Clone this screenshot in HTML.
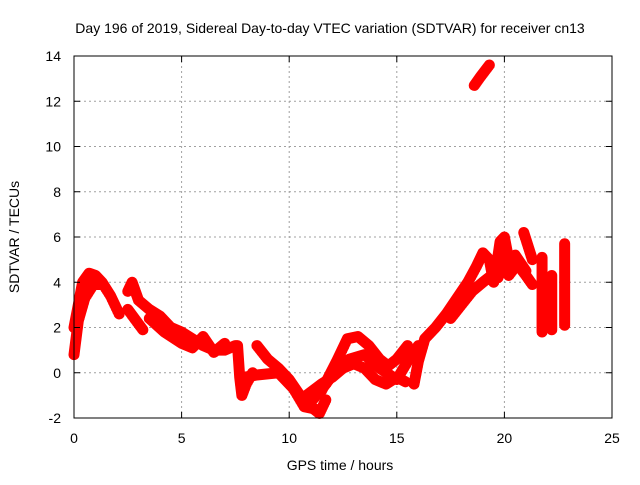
<!DOCTYPE html>
<html><head><meta charset="utf-8"><style>
body{margin:0;background:#fff;}
svg text{font-family:"Liberation Sans",sans-serif;font-size:14px;fill:#000;}
</style></head><body>
<svg id="chart" width="640" height="480" viewBox="0 0 640 480" xmlns="http://www.w3.org/2000/svg">
<rect width="640" height="480" fill="#fff"/>
<text x="330" y="33" text-anchor="middle">Day 196 of 2019, Sidereal Day-to-day VTEC variation (SDTVAR) for receiver cn13</text>
<g id="grid"></g>
<g id="marks"></g>
<rect x="74" y="56" width="538" height="362" fill="none" stroke="#000" stroke-width="1"/>
<g id="axes"></g>
<text x="340" y="470" text-anchor="middle">GPS time / hours</text>
<text transform="translate(19,237) rotate(-90)" text-anchor="middle">SDTVAR / TECUs</text>
</svg>
<script>
const xTicks=[0,5,10,15,20,25];
const yTicks=[-2,0,2,4,6,8,10,12,14];
const trace1=[[0,2.0],[0.2,3.0],[0.4,4.0],[0.7,4.4],[1.0,4.3],[1.3,4.0],[1.7,3.4],[2.1,2.6]];
const trace2=[[0,0.8],[0.2,2.3],[0.5,3.3],[0.9,3.9],[1.3,3.9]];
const trace3=[[2.5,3.6],[2.7,4.0],[3.0,3.2],[3.5,2.8],[4.0,2.5],[4.5,2.0],[5.0,1.8],[5.5,1.5],[6.0,1.2],[6.5,1.0],[7.0,1.0],[7.5,1.2]];
const trace4=[[2.5,2.8],[3.2,1.9]];
const trace5=[[3.5,2.4],[4.2,1.8],[5.0,1.3],[5.5,1.1],[6.0,1.6],[6.5,0.9],[7.0,1.3]];
const trace6=[[7.6,1.2],[7.7,-0.2],[7.8,-1.0],[8.0,-0.5],[8.3,0.0]];
const trace7=[[8.5,1.2],[9.0,0.6],[9.5,0.2],[10.0,-0.3],[10.5,-1.0],[11.0,-1.5],[11.4,-1.8],[11.7,-1.2]];
const trace8=[[7.9,-0.2],[8.5,-0.1],[9.5,0.0],[10.2,-0.7],[10.7,-1.5],[11.2,-1.6]];
const trace9=[[10.8,-1.0],[11.5,-0.5],[12.0,-0.2],[12.5,0.2],[13.0,0.4],[13.5,0.2],[14.0,-0.3],[14.5,-0.5],[15.0,-0.2],[15.4,-0.4]];
const trace10=[[11.0,-1.3],[11.7,-0.5],[12.3,0.3],[12.8,0.6],[13.5,0.8],[14.2,0.2],[15.0,-0.3],[15.5,0.5],[16.0,1.2]];
const trace11=[[11.5,-0.8],[12.2,0.5],[12.7,1.5],[13.2,1.6],[13.7,1.2],[14.2,0.6],[14.6,0.3],[15.0,0.6],[15.5,1.2]];
const trace12=[[15.8,-0.5],[16.0,0.5],[16.3,1.5],[16.8,2.0],[17.3,2.6],[17.8,3.3],[18.3,4.0],[18.7,4.7],[19.0,5.3],[19.3,5.0],[19.5,4.0]];
const trace13=[[17.5,2.4],[18.0,3.0],[18.5,3.6],[19.0,4.0],[19.4,4.3],[19.7,4.2],[20.0,5.0],[20.2,4.3],[20.6,4.8],[21.0,4.3],[21.3,3.9]];
const trace14=[[19.6,4.5],[19.8,5.8],[20.0,6.0],[20.2,5.0],[20.5,5.2],[21.0,4.5]];
const trace15=[[20.9,6.2],[21.3,5.0]];
const trace16=[[21.75,5.1],[21.75,3.5],[21.75,1.8]];
const trace17=[[22.2,4.3],[22.2,3.0],[22.2,1.9]];
const trace18=[[22.8,5.7],[22.8,4.0],[22.8,2.1]];
const trace19=[[18.6,12.7],[18.9,13.1],[19.3,13.6]];
const traces=[trace1,trace2,trace3,trace4,trace5,trace6,trace7,trace8,trace9,trace10,trace11,trace12,trace13,trace14,trace15,trace16,trace17,trace18,trace19];
const X0=74,X1=612,Y0=418,Y1=56;
const sx=h=>X0+(h-0)/(25-0)*(X1-X0);
const sy=v=>Y0-(v+2)/(14+2)*(Y0-Y1);
const NS="http://www.w3.org/2000/svg";
const grid=document.getElementById('grid'),axes=document.getElementById('axes'),marks=document.getElementById('marks');
function mk(t,a,p){const e=document.createElementNS(NS,t);for(const k in a)e.setAttribute(k,a[k]);p.appendChild(e);return e;}
xTicks.forEach(t=>{const x=sx(t);
 if(t>0&&t<25){const g=mk('line',{x1:x,x2:x,y1:Y1,y2:Y0,stroke:'#a0a0a0','stroke-dasharray':'2,3'},grid);
 
 }
 mk('line',{x1:x,x2:x,y1:Y0,y2:Y0-6,stroke:'#000'},axes);mk('line',{x1:x,x2:x,y1:Y1,y2:Y1+6,stroke:'#000'},axes);
 const l=mk('text',{x:x,y:443,'text-anchor':'middle'},axes);l.textContent=t;
 
 });
yTicks.forEach(t=>{const y=sy(t);
 if(t>-2&&t<14){const g=mk('line',{x1:X0,x2:X1,y1:y,y2:y,stroke:'#a0a0a0','stroke-dasharray':'2,3'},grid);
 
 }
 mk('line',{x1:X0,x2:X0+6,y1:y,y2:y,stroke:'#000'},axes);mk('line',{x1:X1,x2:X1-6,y1:y,y2:y,stroke:'#000'},axes);
 const l=mk('text',{x:61,y:y+5,'text-anchor':'end'},axes);l.textContent=t;
 
 });
traces.forEach((tr,i)=>{
 const pts=tr.map(p=>sx(p[0])+','+sy(p[1])).join(' ');
 const pl=mk('polyline',{points:pts,fill:'none',stroke:'#ff0000','stroke-width':11,'stroke-linejoin':'round','stroke-linecap':'round'},marks);
 
 
 let d='';
 for(let j=0;j<tr.length;j++){
  const a=tr[j],b=tr[Math.min(j+1,tr.length-1)];
  const n=j<tr.length-1?6:1;
  for(let k=0;k<n;k++){const f=k/n;const x=sx(a[0]+(b[0]-a[0])*f),y=sy(a[1]+(b[1]-a[1])*f);
   d+=`M${x-5},${y+2}h10M${x},${y-5}v10`;}
 }
 const pm=mk('path',{d:d,stroke:'#ff0000','stroke-width':1.5,fill:'none'},marks);
 
 
});
</script>
</body></html>
